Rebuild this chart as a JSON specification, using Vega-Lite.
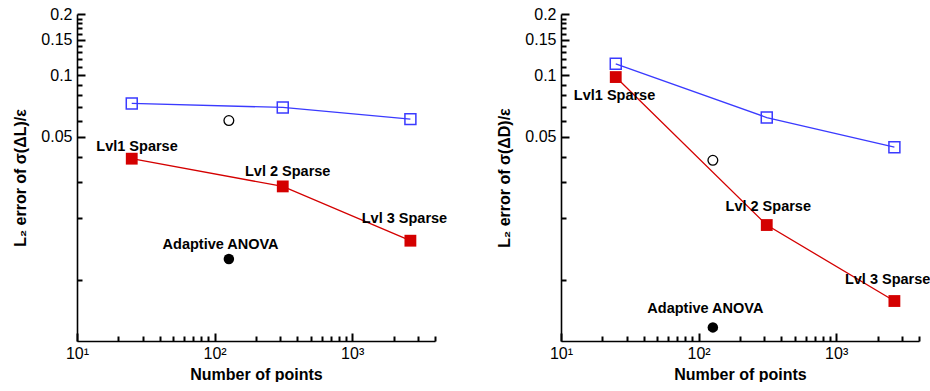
{
  "$schema": "https://vega.github.io/schema/vega-lite/v6.json",
  "padding": {"left": 12, "top": 6, "right": 0, "bottom": 0},
  "background": "white",
  "config": {
    "view": {"stroke": null},
    "font": "Liberation Sans",
    "axis": {
      "grid": false,
      "domainColor": "black",
      "domainWidth": 1.6,
      "tickColor": "black",
      "labelFont": "Liberation Sans",
      "labelFontSize": 16,
      "labelColor": "black",
      "labelOverlap": false,
      "labelFlush": false,
      "titleFont": "Liberation Sans",
      "titleFontSize": 16,
      "titleFontWeight": "bold",
      "titleColor": "black"
    }
  },
  "datasets": {
    "left": [
      {"kind": "point", "series": "Reference", "n": 25, "err": 0.0729},
      {"kind": "point", "series": "Reference", "n": 313, "err": 0.0697},
      {"kind": "point", "series": "Reference", "n": 2650, "err": 0.0611},
      {"kind": "point", "series": "Sparse grid", "n": 25, "err": 0.0391},
      {"kind": "point", "series": "Sparse grid", "n": 313, "err": 0.0286},
      {"kind": "point", "series": "Sparse grid", "n": 2650, "err": 0.0155},
      {"kind": "point", "series": "ANOVA open", "n": 127, "err": 0.0601},
      {"kind": "point", "series": "Adaptive ANOVA", "n": 127, "err": 0.0126},
      {"kind": "label", "n": 27.3, "err": 0.0448, "text": "Lvl1 Sparse"},
      {"kind": "label", "n": 340, "err": 0.0337, "text": "Lvl 2 Sparse"},
      {"kind": "label", "n": 2399, "err": 0.0198, "text": "Lvl 3 Sparse"},
      {"kind": "label", "n": 110.5, "err": 0.01474, "text": "Adaptive ANOVA"}
    ],
    "right": [
      {"kind": "point", "series": "Reference", "n": 25, "err": 0.114},
      {"kind": "point", "series": "Reference", "n": 313, "err": 0.0622},
      {"kind": "point", "series": "Reference", "n": 2650, "err": 0.0445},
      {"kind": "point", "series": "Sparse grid", "n": 25, "err": 0.0982},
      {"kind": "point", "series": "Sparse grid", "n": 313, "err": 0.0185},
      {"kind": "point", "series": "Sparse grid", "n": 2650, "err": 0.00785},
      {"kind": "point", "series": "ANOVA open", "n": 127, "err": 0.0384},
      {"kind": "point", "series": "Adaptive ANOVA", "n": 127, "err": 0.00583},
      {"kind": "label", "n": 24.5, "err": 0.0789, "text": "Lvl1 Sparse"},
      {"kind": "label", "n": 321, "err": 0.0226, "text": "Lvl 2 Sparse"},
      {"kind": "label", "n": 2366, "err": 0.0100, "text": "Lvl 3 Sparse"},
      {"kind": "label", "n": 112, "err": 0.00715, "text": "Adaptive ANOVA"}
    ]
  },
  "spacing": 48,
  "hconcat": [
    {
      "width": 358,
      "height": 327,
      "data": {"name": "left"},
      "resolve": {"axis": {"x": "independent", "y": "independent"}},
      "layer": [
        {
          "encoding": {
            "x": {
              "field": "n", "type": "quantitative",
              "scale": {"type": "log", "domain": [10, 4000], "nice": false},
              "axis": {
                "orient": "bottom",
                "values": [10, 100, 1000],
                "ticks": false,
                "labelPadding": 4,
                "labelExpr": "datum.value == 10 ? '10¹' : datum.value == 100 ? '10²' : '10³'",
                "title": "Number of points",
                "titlePadding": 5
              }
            },
            "y": {
              "field": "err", "type": "quantitative",
              "scale": {"type": "log", "domain": [0.005, 0.2], "nice": false},
              "axis": {
                "orient": "left",
                "values": [0.05, 0.1, 0.15, 0.2],
                "ticks": false,
                "labelPadding": 5,
                "labelExpr": "datum.value == 0.05 ? '0.05' : datum.value == 0.1 ? '0.1' : datum.value == 0.15 ? '0.15' : '0.2'",
                "title": "L₂ error of σ(ΔL)/ε",
                "titlePadding": 12
              }
            }
          },
          "layer": [
            {"transform": [{"filter": "datum.series == 'Reference'"}], "mark": {"type": "line", "color": "#3a3aff", "strokeWidth": 1.3}},
            {"transform": [{"filter": "datum.series == 'Sparse grid'"}], "mark": {"type": "line", "color": "#d40000", "strokeWidth": 1.3}},
            {"transform": [{"filter": "datum.series == 'Reference'"}], "mark": {"type": "point", "shape": "square", "filled": false, "color": "#3a3aff", "strokeWidth": 1.5, "size": 120, "opacity": 1}},
            {"transform": [{"filter": "datum.series == 'Sparse grid'"}], "mark": {"type": "point", "shape": "square", "filled": true, "color": "#d40000", "size": 140, "opacity": 1}},
            {"transform": [{"filter": "datum.series == 'ANOVA open'"}], "mark": {"type": "point", "shape": "circle", "filled": false, "color": "black", "strokeWidth": 1.3, "size": 95, "opacity": 1}},
            {"transform": [{"filter": "datum.series == 'Adaptive ANOVA'"}], "mark": {"type": "point", "shape": "circle", "filled": true, "color": "black", "size": 110, "opacity": 1}},
            {"transform": [{"filter": "datum.kind == 'label'"}], "mark": {"type": "text", "font": "Liberation Sans", "fontSize": 14.5, "fontWeight": "bold", "color": "black", "align": "center", "baseline": "middle"}, "encoding": {"text": {"field": "text"}}}
          ]
        },
        {
          "transform": [{"filter": "datum.kind == 'point'"}],
          "mark": {"type": "point", "opacity": 0},
          "encoding": {
            "x": {
              "field": "n", "type": "quantitative",
              "scale": {"type": "log", "domain": [10, 4000], "nice": false},
              "axis": {"orient": "bottom", "values": [10, 100, 1000], "offset": -8, "ticks": true, "tickSize": 8, "tickWidth": 2, "tickColor": "black", "labels": false, "domain": false, "title": null}
            },
            "y": {
              "field": "err", "type": "quantitative",
              "scale": {"type": "log", "domain": [0.005, 0.2], "nice": false},
              "axis": {"orient": "left", "values": [0.05, 0.1, 0.15, 0.2], "offset": -8, "ticks": true, "tickSize": 8, "tickWidth": 2, "tickColor": "black", "labels": false, "domain": false, "title": null}
            }
          }
        },
        {
          "transform": [{"filter": "datum.kind == 'point'"}],
          "mark": {"type": "point", "opacity": 0},
          "encoding": {
            "x": {
              "field": "n", "type": "quantitative",
              "scale": {"type": "log", "domain": [10, 4000], "nice": false},
              "axis": {"orient": "bottom", "values": [20, 30, 40, 50, 60, 70, 80, 90, 200, 300, 400, 500, 600, 700, 800, 900, 2000, 3000, 4000], "offset": -5, "ticks": true, "tickSize": 5, "tickWidth": 2, "tickColor": "black", "labels": false, "domain": false, "title": null}
            },
            "y": {
              "field": "err", "type": "quantitative",
              "scale": {"type": "log", "domain": [0.005, 0.2], "nice": false},
              "axis": {"orient": "left", "values": [0.01, 0.02, 0.03, 0.04, 0.06, 0.07, 0.08, 0.09, 0.11, 0.12, 0.13, 0.14, 0.16, 0.17, 0.18, 0.19], "offset": -5, "ticks": true, "tickSize": 5, "tickWidth": 2, "tickColor": "black", "labels": false, "domain": false, "title": null}
            }
          }
        }
      ]
    },
    {
      "width": 358,
      "height": 327,
      "data": {"name": "right"},
      "resolve": {"axis": {"x": "independent", "y": "independent"}},
      "layer": [
        {
          "encoding": {
            "x": {
              "field": "n", "type": "quantitative",
              "scale": {"type": "log", "domain": [10, 4000], "nice": false},
              "axis": {
                "orient": "bottom",
                "values": [10, 100, 1000],
                "ticks": false,
                "labelPadding": 4,
                "labelExpr": "datum.value == 10 ? '10¹' : datum.value == 100 ? '10²' : '10³'",
                "title": "Number of points",
                "titlePadding": 5
              }
            },
            "y": {
              "field": "err", "type": "quantitative",
              "scale": {"type": "log", "domain": [0.005, 0.2], "nice": false},
              "axis": {
                "orient": "left",
                "values": [0.05, 0.1, 0.15, 0.2],
                "ticks": false,
                "labelPadding": 5,
                "labelExpr": "datum.value == 0.05 ? '0.05' : datum.value == 0.1 ? '0.1' : datum.value == 0.15 ? '0.15' : '0.2'",
                "title": "L₂ error of σ(ΔD)/ε",
                "titlePadding": 12
              }
            }
          },
          "layer": [
            {"transform": [{"filter": "datum.series == 'Reference'"}], "mark": {"type": "line", "color": "#3a3aff", "strokeWidth": 1.3}},
            {"transform": [{"filter": "datum.series == 'Sparse grid'"}], "mark": {"type": "line", "color": "#d40000", "strokeWidth": 1.3}},
            {"transform": [{"filter": "datum.series == 'Sparse grid'"}], "mark": {"type": "point", "shape": "square", "filled": true, "color": "#d40000", "size": 140, "opacity": 1}},
            {"transform": [{"filter": "datum.series == 'Reference'"}], "mark": {"type": "point", "shape": "square", "filled": false, "color": "#3a3aff", "strokeWidth": 1.5, "size": 120, "opacity": 1}},
            {"transform": [{"filter": "datum.series == 'ANOVA open'"}], "mark": {"type": "point", "shape": "circle", "filled": false, "color": "black", "strokeWidth": 1.3, "size": 95, "opacity": 1}},
            {"transform": [{"filter": "datum.series == 'Adaptive ANOVA'"}], "mark": {"type": "point", "shape": "circle", "filled": true, "color": "black", "size": 110, "opacity": 1}},
            {"transform": [{"filter": "datum.kind == 'label'"}], "mark": {"type": "text", "font": "Liberation Sans", "fontSize": 14.5, "fontWeight": "bold", "color": "black", "align": "center", "baseline": "middle"}, "encoding": {"text": {"field": "text"}}}
          ]
        },
        {
          "transform": [{"filter": "datum.kind == 'point'"}],
          "mark": {"type": "point", "opacity": 0},
          "encoding": {
            "x": {
              "field": "n", "type": "quantitative",
              "scale": {"type": "log", "domain": [10, 4000], "nice": false},
              "axis": {"orient": "bottom", "values": [10, 100, 1000], "offset": -8, "ticks": true, "tickSize": 8, "tickWidth": 2, "tickColor": "black", "labels": false, "domain": false, "title": null}
            },
            "y": {
              "field": "err", "type": "quantitative",
              "scale": {"type": "log", "domain": [0.005, 0.2], "nice": false},
              "axis": {"orient": "left", "values": [0.05, 0.1, 0.15, 0.2], "offset": -8, "ticks": true, "tickSize": 8, "tickWidth": 2, "tickColor": "black", "labels": false, "domain": false, "title": null}
            }
          }
        },
        {
          "transform": [{"filter": "datum.kind == 'point'"}],
          "mark": {"type": "point", "opacity": 0},
          "encoding": {
            "x": {
              "field": "n", "type": "quantitative",
              "scale": {"type": "log", "domain": [10, 4000], "nice": false},
              "axis": {"orient": "bottom", "values": [20, 30, 40, 50, 60, 70, 80, 90, 200, 300, 400, 500, 600, 700, 800, 900, 2000, 3000, 4000], "offset": -5, "ticks": true, "tickSize": 5, "tickWidth": 2, "tickColor": "black", "labels": false, "domain": false, "title": null}
            },
            "y": {
              "field": "err", "type": "quantitative",
              "scale": {"type": "log", "domain": [0.005, 0.2], "nice": false},
              "axis": {"orient": "left", "values": [0.01, 0.02, 0.03, 0.04, 0.06, 0.07, 0.08, 0.09, 0.11, 0.12, 0.13, 0.14, 0.16, 0.17, 0.18, 0.19], "offset": -5, "ticks": true, "tickSize": 5, "tickWidth": 2, "tickColor": "black", "labels": false, "domain": false, "title": null}
            }
          }
        }
      ]
    }
  ]
}
